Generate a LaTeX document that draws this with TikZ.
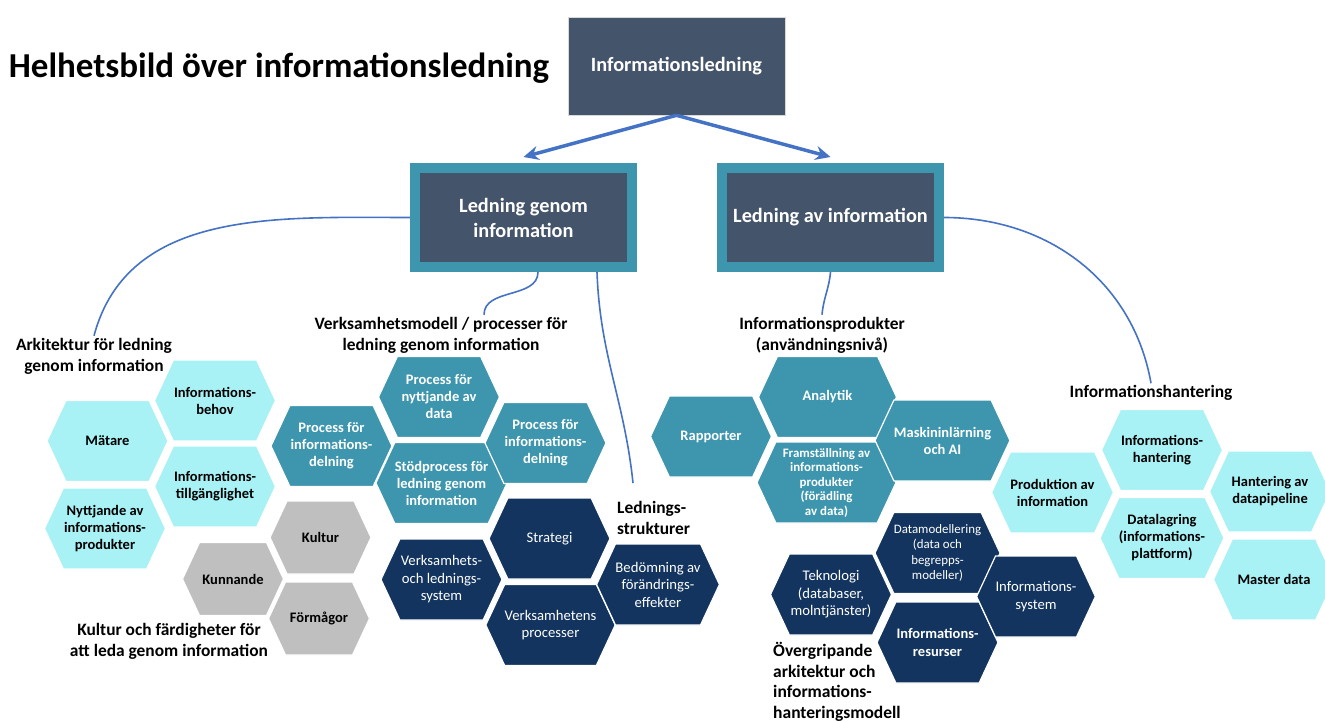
\documentclass[tikz,border=0pt]{standalone}
\usepackage{fontspec}
\setmainfont{Carlito}
\usetikzlibrary{shapes.symbols,arrows.meta}

\definecolor{slate}{HTML}{44546A}
\definecolor{tealframe}{HTML}{3D96AE}
\definecolor{navyhex}{HTML}{12345E}
\definecolor{cyanhex}{HTML}{A8F1F5}
\definecolor{greyhex}{HTML}{BFBFBF}
\definecolor{linkblue}{HTML}{4472C4}

\begin{document}
\begin{tikzpicture}[x=1pt, y=-1pt,
	hexa/.style={signal, signal to=east and west, signal pointer angle=130, minimum width=121, minimum height=81, inner sep=0, draw=white, line width=1.2pt, align=center, font=\bfseries\fontsize{14.5}{17}\selectfont},
	cyanhexa/.style={hexa, fill=cyanhex, text=black},
	greyhexa/.style={hexa, fill=greyhex, text=black, minimum width=101, minimum height=73},
	tealhexa/.style={hexa, fill=tealframe, text=white},
	navyhexa/.style={hexa, fill=navyhex, text=white, font=\fontsize{14.7}{17.5}\selectfont},
	topbox/.style={fill=slate, text=white, align=center, font=\bfseries\fontsize{20.3}{25}\selectfont},
	framebox/.style={topbox, draw=tealframe, line width=10pt, minimum width=217, minimum height=99},
	grouplabel/.style={align=center, inner sep=2pt, font=\bfseries\fontsize{17.4}{21}\selectfont},
	link/.style={linkblue, line width=1.6pt},
	mainlink/.style={linkblue, line width=3.5pt, -{Stealth[length=15pt, width=14pt]}}]
	 \useasboundingbox (0, 0) rectangle (1325, 722);
	 \fill[white] (0, 0) rectangle (1325, 722);
	 
	 \node[font=\bfseries\fontsize{35}{40}\selectfont] (title) at (279, 68) {Helhetsbild över informationsledning};
	 \node[topbox, minimum width=217, minimum height=98, draw=gray!30, line width=0.6pt] (top) at (676.5, 66) {Informationsledning};
	 \node[framebox] (lgi) at (523.5, 217.5) {Ledning genom\\information};
	 \node[framebox] (lai) at (830.5, 217.5) {Ledning av information};
	 
	 \draw[mainlink] (top.south) -- ([yshift=6]lgi.north);
	 \draw[mainlink] (top.south) -- ([yshift=6]lai.north);
	 
	 \node[grouplabel] (arch) at (94, 356) {Arkitektur för ledning\\genom information};
	 \node[grouplabel] (vm) at (441, 335) {Verksamhetsmodell / processer för\\ledning genom information};
	 \node[grouplabel, align=left, anchor=west] (lstr) at (615, 518) {Lednings-\\strukturer};
	 \node[grouplabel] (kult) at (169, 641) {Kultur och färdigheter för\\att leda genom information};
	 \node[grouplabel] (iprod) at (822, 335) {Informationsprodukter\\(användningsnivå)};
	 \node[grouplabel] (ihant) at (1151, 393) {Informationshantering};
	 \node[grouplabel, align=left, anchor=west, font=\bfseries\fontsize{17.5}{20.5}\selectfont] (overgr) at (771, 682) {Övergripande\\arkitektur och\\informations-\\hanteringsmodell};
	 
	 \coordinate (lstrend) at (633, 483);
	 \draw[link] (lgi.west) to[out=180, in=75] (arch.north);
	 \draw[link] ([xshift=14.5]lgi.south) to[out=-90, in=90] ([xshift=43]vm.north);
	 \draw[link] ([xshift=73.5]lgi.south) to[out=-88, in=96] (lstrend);
	 \draw[link] (lai.south) to[out=-95, in=85] (iprod.north);
	 \draw[link] (lai.east) to[out=0, in=100] (ihant.north);
	 
	 \node[cyanhexa] (behov) at (215, 400.5) {Informations-\\behov};
	 \node[cyanhexa] (matare) at (107.5, 441) {Mätare};
	 \node[cyanhexa] (tillg) at (215, 486.5) {Informations-\\tillgänglighet};
	 \node[cyanhexa] (nyttj) at (105, 528.5) {Nyttjande av\\informations-\\produkter};
	 
	 \node[greyhexa] (kultur) at (320.5, 537.5) {Kultur};
	 \node[greyhexa] (kunnande) at (233, 579) {Kunnande};
	 \node[greyhexa] (formagor) at (319, 618.5) {Förmågor};
	 
	 \node[tealhexa] (deln1) at (331.5, 446) {Process för\\informations-\\delning};
	 \node[tealhexa] (nyttdata) at (439, 397) {Process för\\nyttjande av\\data};
	 \node[tealhexa] (stod) at (441.5, 483) {Stödprocess för\\ledning genom\\information};
	 \node[tealhexa] (deln2) at (545.5, 443) {Process för\\informations-\\delning};
	 
	 \node[navyhexa] (vls) at (441.5, 579.5) {Verksamhets-\\och lednings-\\system};
	 \node[navyhexa] (strategi) at (549.5, 538.5) {Strategi};
	 \node[navyhexa] (vproc) at (550.5, 625) {Verksamhetens\\processer};
	 \node[navyhexa] (bedom) at (658, 584.5) {Bedömning av\\förändrings-\\effekter};
	 
	 \node[tealhexa] (rapp) at (711, 436.5) {Rapporter};
	 \node[tealhexa, minimum width=138] (analytik) at (827.5, 397) {Analytik};
	 \node[tealhexa, minimum width=139, font=\bfseries\fontsize{12.9}{14.5}\selectfont] (framst) at (826.5, 482.5) {Framställning av\\informations-\\produkter\\(förädling\\av data)};
	 \node[tealhexa] (maskin) at (942.5, 440.5) {Maskininlärning\\och AI};
	 
	 \node[navyhexa, font=\fontsize{12.9}{15.5}\selectfont] (datamod) at (937.5, 553) {Datamodellering\\(data och\\begrepps-\\modeller)};
	 \node[navyhexa] (tekno) at (831, 594.5) {Teknologi\\(databaser,\\molntjänster)};
	 \node[navyhexa, font=\bfseries\fontsize{14.5}{17.5}\selectfont] (resurser) at (937.5, 642.5) {Informations-\\resurser};
	 \node[navyhexa, minimum width=104] (insys) at (1036, 596.5) {Informations-\\system};
	 
	 \node[cyanhexa] (hantering) at (1162, 450) {Informations-\\hantering};
	 \node[cyanhexa] (prod) at (1052.5, 492.5) {Produktion av\\information};
	 \node[cyanhexa] (pipeline) at (1270, 491.5) {Hantering av\\datapipeline};
	 \node[cyanhexa] (lagring) at (1162, 538) {Datalagring\\(informations-\\plattform)};
	 \node[cyanhexa] (master) at (1274, 579.5) {Master data};
\end{tikzpicture}
\end{document}
